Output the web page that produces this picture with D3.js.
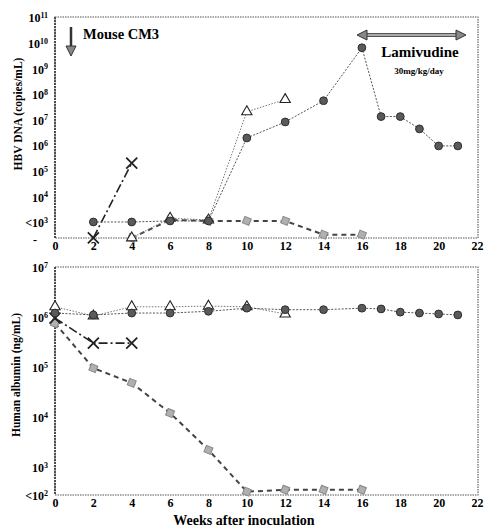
<!DOCTYPE html>
<html>
<head>
<meta charset="utf-8">
<script src="https://cdn.jsdelivr.net/npm/d3@7"></script>
<style>
  body { margin: 0; background: #fff; }
  svg { font-family: "Liberation Serif", "DejaVu Serif", serif; font-weight: bold; }
</style>
</head>
<body>
<div id="chart"></div>
<script>
// x ticks (weeks after inoculation)
const weekTicks = [0, 2, 4, 6, 8, 10, 12, 14, 16, 18, 20, 22];

// Top panel: HBV DNA (copies/mL)
const topCircleWeeks = [2, 4, 6, 8, 10, 12, 14, 16, 17, 18, 19, 20, 21];
const topCircleDNA = [1e3, 1e3, 1.1e3, 1.1e3, 1.9e6, 8e6, 5.4e7, 6.3e9, 1.3e7, 1.3e7, 4.3e6, 9.3e5, 9.3e5];
const topTriWeeks = [4, 6, 8, 10, 12];
const topTriDNA = [2.4e2, 1.4e3, 1.2e3, 2e7, 6e7];
const topGrayWeeks = [4, 6, 8, 10, 12, 14, 16];
const topGrayDNA = [2.4e2, 1.2e3, 1.1e3, 1.1e3, 1.1e3, 3.2e2, 3.2e2];
const topCrossWeeks = [2, 4];
const topCrossDNA = [2.4e2, 2e5];
const topTickValues = [1e3, 1e4, 1e5, 1e6, 1e7, 1e8, 1e9, 1e10, 1e11];
const topTickExp = ["3", "4", "5", "6", "7", "8", "9", "10", "11"];

// Bottom panel: Human albumin (ng/mL)
const botCircleWeeks = [0, 2, 4, 6, 8, 10, 12, 14, 16, 17, 18, 19, 20, 21];
const botCircleAlb = [1.2e6, 1.1e6, 1.2e6, 1.2e6, 1.3e6, 1.5e6, 1.4e6, 1.4e6, 1.5e6, 1.45e6, 1.25e6, 1.2e6, 1.15e6, 1.1e6];
const botTriWeeks = [0, 2, 4, 6, 8, 10, 12];
const botTriAlb = [1.6e6, 1.05e6, 1.6e6, 1.6e6, 1.65e6, 1.6e6, 1.15e6];
const botGrayWeeks = [0, 2, 4, 6, 8, 10, 12, 14, 16];
const botGrayAlb = [7.5e5, 9.5e4, 4.8e4, 1.2e4, 2.2e3, 3.2e2, 3.5e2, 3.5e2, 3.5e2];
const botCrossWeeks = [0, 2, 4];
const botCrossAlb = [9.5e5, 3e5, 3e5];
const botTickValues = [275, 1e3, 1e4, 1e5, 1e6, 1e7];
const botTickLabels = [["<10", "2"], ["10", "3"], ["10", "4"], ["10", "5"], ["10", "6"], ["10", "7"]];

const W = 486, H = 528;
const svg = d3.select("#chart").append("svg").attr("width", W).attr("height", H);

const x = d3.scaleLinear().domain([0, 22]).range([55, 477]);
const yTop = d3.scaleLog().domain([237, 1e11]).range([238, 17]);
const yBot = d3.scaleLog().domain([275, 1e7]).range([495, 267]);

const zip = (a, b) => a.map((w, i) => ({ w, v: b[i] }));

function frame(y) {
    const [y0, y1] = y.range();
    svg.append("rect")
        .attr("x", x(0)).attr("y", y1)
        .attr("width", x(22) - x(0) + 1).attr("height", y0 - y1)
        .attr("fill", "none").attr("stroke", "#555")
        .attr("stroke-width", 1.1).attr("stroke-dasharray", "1.5,1");
    svg.append("line")
        .attr("x1", x(0)).attr("x2", x(0)).attr("y1", y1).attr("y2", y0)
        .attr("stroke", "#333").attr("stroke-width", 1.6).attr("stroke-dasharray", "2,1");
    const ax = svg.append("g")
        .attr("transform", `translate(0,${y0})`)
        .call(d3.axisBottom(x).tickValues(weekTicks).tickSize(0).tickPadding(3));
    ax.select(".domain").remove();
    ax.selectAll("text").attr("font-size", 12).attr("font-family", "Liberation Serif").attr("font-weight", "bold");
}

function yAxis(y, values, labels) {
    const ax = svg.append("g")
        .attr("transform", `translate(${x(0) - 4},0)`)
        .call(d3.axisLeft(y).tickValues(values).tickSize(0).tickFormat(() => ""));
    ax.select(".domain").remove();
    ax.selectAll(".tick text").each(function (d, i) {
        const t = d3.select(this).attr("font-size", 12).attr("font-family", "Liberation Serif")
            .attr("font-weight", "bold").attr("dy", "0.4em");
        t.append("tspan").text(labels[i][0]);
        t.append("tspan").attr("font-size", 8).attr("dy", "-0.55em").text(labels[i][1]);
    });
}

function series(y, data, opts) {
    const line = d3.line().x(d => x(d.w)).y(d => y(d.v));
    svg.append("path").datum(data).attr("d", line)
        .attr("fill", "none").attr("stroke", opts.stroke)
        .attr("stroke-width", opts.width).attr("stroke-dasharray", opts.dash);
    const g = svg.append("g");
    data.forEach(d => {
        const cx = x(d.w), cy = y(d.v);
        if (opts.marker === "circle") {
            g.append("circle").attr("cx", cx).attr("cy", cy).attr("r", 3.9)
                .attr("fill", "#5a5a5a").attr("stroke", "#2e2e2e").attr("stroke-width", 1);
        } else if (opts.marker === "gray") {
            g.append("path").attr("transform", `translate(${cx},${cy}) rotate(22)`)
                .attr("d", d3.symbol(d3.symbolSquare, 48)())
                .attr("fill", "#b0b0b0").attr("stroke", "#888").attr("stroke-width", 1);
        } else if (opts.marker === "triangle") {
            g.append("path").attr("transform", `translate(${cx},${cy})`)
                .attr("d", d3.symbol(d3.symbolTriangle, 46)())
                .attr("fill", "#fff").attr("stroke", "#222").attr("stroke-width", 1.1);
        } else if (opts.marker === "cross") {
            const s = 5.5;
            g.append("path")
                .attr("d", `M${cx - s},${cy - s}L${cx + s},${cy + s}M${cx - s},${cy + s}L${cx + s},${cy - s}`)
                .attr("stroke", "#222").attr("stroke-width", 1.8);
        }
    });
}

const circleStyle = { stroke: "#555", width: 1, dash: "2,1.5", marker: "circle" };
const triStyle = { stroke: "#777", width: 1, dash: "1.5,1.5", marker: "triangle" };
const grayStyle = { stroke: "#444", width: 2, dash: "5,4", marker: "gray" };
const crossStyle = { stroke: "#222", width: 1.6, dash: "9,3,2,3", marker: "cross" };

// ---- Top panel ----
frame(yTop);
yAxis(yTop, topTickValues, topTickExp.map((e, i) => [i === 0 ? "<10" : "10", e]));
svg.append("text").attr("x", 35).attr("y", 244).attr("font-size", 12).attr("text-anchor", "middle").text("-");
series(yTop, zip(topCrossWeeks, topCrossDNA), crossStyle);
series(yTop, zip(topGrayWeeks, topGrayDNA), grayStyle);
series(yTop, zip(topTriWeeks, topTriDNA), triStyle);
series(yTop, zip(topCircleWeeks, topCircleDNA), circleStyle);

svg.append("text")
    .attr("transform", "translate(22,114) rotate(-90)")
    .attr("text-anchor", "middle").attr("font-size", 11.5)
    .text("HBV DNA (copies/mL)");

// Mouse CM3 arrow
svg.append("line").attr("x1", 71).attr("x2", 71).attr("y1", 27).attr("y2", 47)
    .attr("stroke", "#333").attr("stroke-width", 2.5);
svg.append("path").attr("d", "M66,46L76,46L71,56Z").attr("fill", "#888").attr("stroke", "#333").attr("stroke-width", 1);
svg.append("text").attr("x", 83).attr("y", 39).attr("font-size", 14.5).text("Mouse CM3");

// Lamivudine arrow
svg.append("line").attr("x1", 364).attr("x2", 458).attr("y1", 35).attr("y2", 35)
    .attr("stroke", "#555").attr("stroke-width", 4);
svg.append("line").attr("x1", 364).attr("x2", 458).attr("y1", 35).attr("y2", 35)
    .attr("stroke", "#aaa").attr("stroke-width", 2);
svg.append("path").attr("d", "M357,35L367,30L367,40Z").attr("fill", "#888").attr("stroke", "#333");
svg.append("path").attr("d", "M466,35L456,30L456,40Z").attr("fill", "#888").attr("stroke", "#333");
svg.append("text").attr("x", 420).attr("y", 57).attr("text-anchor", "middle").attr("font-size", 15).text("Lamivudine");
svg.append("text").attr("x", 419).attr("y", 74).attr("text-anchor", "middle").attr("font-size", 9).text("30mg/kg/day");

// ---- Bottom panel ----
frame(yBot);
yAxis(yBot, botTickValues, botTickLabels);
series(yBot, zip(botGrayWeeks, botGrayAlb), grayStyle);
series(yBot, zip(botCrossWeeks, botCrossAlb), crossStyle);
series(yBot, zip(botTriWeeks, botTriAlb), triStyle);
series(yBot, zip(botCircleWeeks, botCircleAlb), circleStyle);

svg.append("text")
    .attr("transform", "translate(20,375) rotate(-90)")
    .attr("text-anchor", "middle").attr("font-size", 11.5)
    .text("Human albumin (ng/mL)");

svg.append("text").attr("x", 244).attr("y", 525).attr("text-anchor", "middle")
    .attr("font-size", 14).text("Weeks after inoculation");
</script>
</body>
</html>
